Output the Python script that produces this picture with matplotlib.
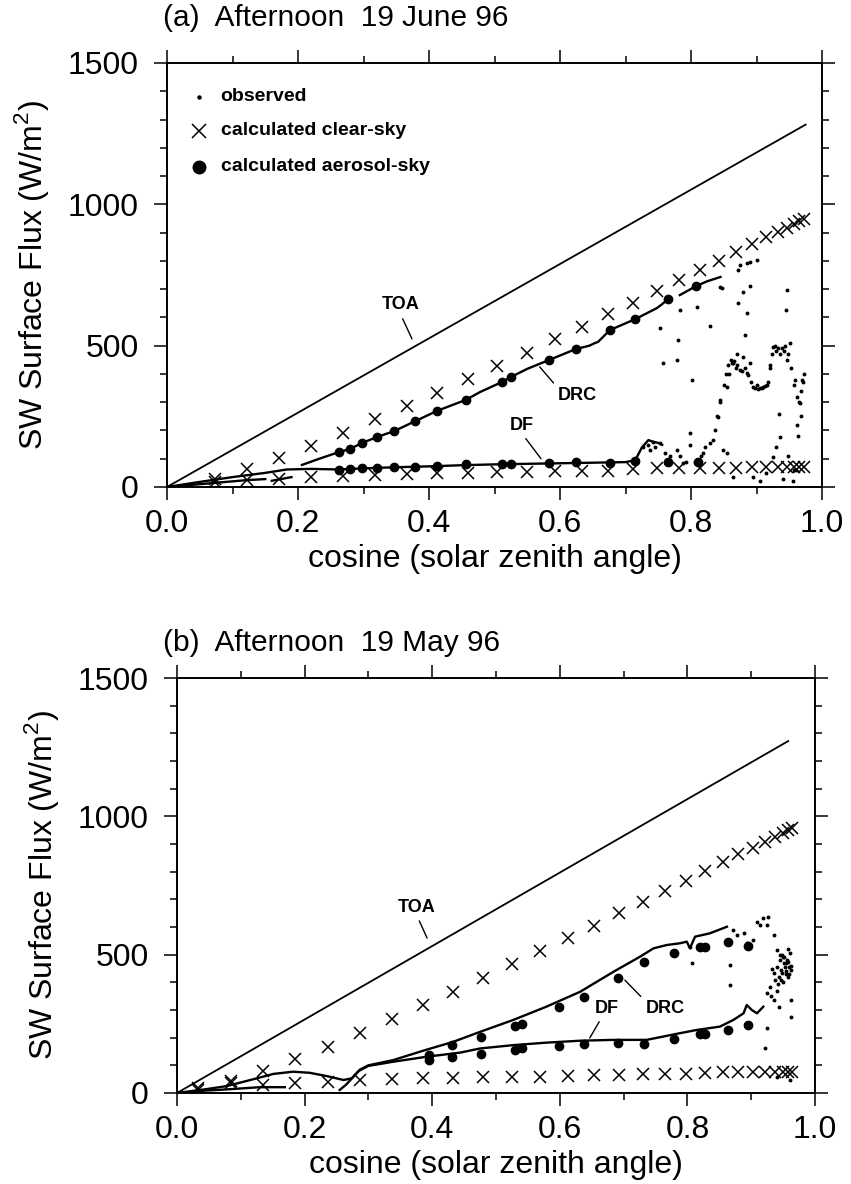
import numpy as np
import matplotlib
matplotlib.use("Agg")
import matplotlib.pyplot as plt
from matplotlib.ticker import MultipleLocator

plt.rcParams['font.family'] = ['Liberation Sans', 'DejaVu Sans']
plt.rcParams['mathtext.fontset'] = 'custom'
plt.rcParams['mathtext.rm'] = 'Liberation Sans'

nan = np.nan

# ---------------- Panel (a): 19 June 96 ----------------
a_toa_x = [0.0, 0.975]
a_toa_y = [0, 1282]

a_clr_drc_x = [0.073, 0.122, 0.171, 0.220, 0.269, 0.318, 0.366, 0.412, 0.460, 0.504, 0.550,
               0.592, 0.634, 0.673, 0.711, 0.748, 0.782, 0.814, 0.843, 0.869, 0.893, 0.914,
               0.933, 0.946, 0.957, 0.965, 0.973]
a_clr_drc_y = [28, 64, 103, 145, 191, 241, 287, 333, 382, 428, 474, 523, 566, 612, 651, 693,
               732, 768, 800, 831, 860, 884, 902, 916, 930, 941, 948]
a_clr_df_x = [0.073, 0.122, 0.171, 0.220, 0.269, 0.318, 0.366, 0.412, 0.460, 0.504, 0.550,
              0.592, 0.634, 0.673, 0.711, 0.748, 0.782, 0.814, 0.843, 0.869, 0.893, 0.914,
              0.933, 0.946, 0.957, 0.965, 0.973]
a_clr_df_y = [18, 25, 28, 35, 39, 42, 46, 50, 50, 53, 53, 57, 57, 57, 64, 67, 67, 67, 67, 67,
              70, 70, 70, 70, 70, 70, 70]

a_aer_drc_x = [0.263, 0.279, 0.298, 0.321, 0.347, 0.379, 0.412, 0.456, 0.511, 0.525, 0.583,
               0.624, 0.676, 0.715, 0.765, 0.808]
a_aer_drc_y = [124, 134, 156, 177, 198, 233, 269, 308, 371, 389, 449, 488, 555, 594, 665, 711]
a_aer_df_x = [0.263, 0.279, 0.298, 0.321, 0.347, 0.379, 0.412, 0.456, 0.511, 0.525, 0.583,
              0.624, 0.676, 0.715, 0.765, 0.811]
a_aer_df_y = [60, 64, 67, 67, 71, 71, 74, 81, 81, 81, 85, 88, 85, 92, 88, 88]

a_obs_drc_x = [0.0, 0.04, 0.08, 0.12, 0.15, nan, 0.16, 0.19, nan, 0.206, 0.23, 0.263, 0.279,
               0.298, 0.321, 0.347, 0.379, 0.412, 0.456, 0.478, 0.511, 0.525, 0.55, 0.583,
               0.624, 0.645, 0.653, 0.658, 0.676, 0.715, 0.748, 0.756, 0.765, nan, 0.783,
               0.808, 0.825, 0.845]
a_obs_drc_y = [0, 8, 16, 24, 28, nan, 22, 35, nan, 78, 98, 124, 134, 156, 177, 198, 233, 269,
               308, 336, 371, 389, 418, 449, 488, 500, 509, 513, 555, 594, 633, 647, 665, nan,
               679, 711, 728, 743]
a_obs_df_x = [0.0, 0.05, 0.10, 0.15, 0.183, 0.22, 0.263, 0.30, 0.35, 0.40, 0.45, 0.50, 0.55,
              0.60, 0.65, 0.70, 0.715, 0.725, 0.735, 0.742, 0.75, 0.756]
a_obs_df_y = [0, 18, 35, 50, 62, 64, 62, 66, 70, 73, 77, 80, 82, 84, 86, 88, 95, 140, 166, 160,
              156, 149]
a_obs_pts_x = [0.753, 0.757, 0.780, 0.778, 0.783, 0.802, 0.809, 0.829, 0.844, 0.848, 0.872,
               0.875, 0.885, 0.890, 0.900, 0.879, 0.890, 0.872, 0.885, 0.882, 0.879, 0.863,
               0.855, 0.844, 0.841, 0.837, 0.834, 0.864, 0.868, 0.875, 0.885, 0.895, 0.900,
               0.905, 0.910, 0.916, 0.925, 0.930, 0.939, 0.946, 0.951, 0.959, 0.966, 0.971,
               0.946, 0.945, 0.727, 0.742, 0.753, 0.763, 0.778, 0.783, 0.788, 0.798, 0.798,
               0.809, 0.818, 0.829, 0.849, 0.855, 0.864, 0.895, 0.925, 0.930, 0.936, 0.940,
               0.955, 0.960, 0.962, 0.964, 0.968, 0.935, 0.920, 0.870, 0.858, 0.890,
               0.840, 0.845, 0.850, 0.853, 0.857, 0.861, 0.866, 0.870, 0.878, 0.882, 0.887,
               0.892, 0.897, 0.903, 0.908, 0.913, 0.918, 0.921, 0.923, 0.928, 0.933, 0.936,
               0.942, 0.944, 0.948, 0.953, 0.957, 0.962, 0.965, 0.968, 0.970, 0.972, 0.735,
               0.745, 0.768, 0.792, 0.815, 0.822, 0.738, 0.760, 0.905, 0.915, 0.948, 0.958]
a_obs_pts_y = [562, 439, 520, 449, 626, 378, 637, 569, 708, 705, 768, 785, 792, 797, 803, 690,
               710, 651, 615, 538, 460, 439, 354, 308, 248, 202, 166, 439, 420, 414, 403, 354,
               360, 350, 355, 361, 495, 480, 492, 449, 509, 378, 297, 371, 697, 626, 142, 159,
               156, 96, 131, 110, 85, 191, 150, 96, 120, 156, 131, 120, 35, 35, 106, 140, 177,
               30, 20, 60, 220, 180, 250, 260, 420, 470, 400, 440,
               250, 300, 360, 400, 430, 450, 445, 430, 410, 420, 395, 370, 350, 345, 352, 358,
               370, 430, 470, 500, 490, 470, 480, 500, 470, 420, 360, 320, 300, 340, 380, 400,
               150, 140, 110, 90, 110, 140, 130, 120, 20, 50, 110, 60]

# ---------------- Panel (b): 19 May 96 ----------------
b_toa_x = [0.0, 0.958]
b_toa_y = [0, 1272]

b_clr_drc_x = [0.033, 0.085, 0.135, 0.185, 0.237, 0.287, 0.337, 0.386, 0.433, 0.480, 0.525,
               0.569, 0.613, 0.654, 0.693, 0.730, 0.765, 0.798, 0.828, 0.856, 0.879, 0.903,
               0.922, 0.937, 0.950, 0.958, 0.964]
b_clr_drc_y = [18, 43, 80, 123, 166, 217, 267, 318, 365, 417, 466, 513, 560, 604, 650, 690,
               730, 766, 802, 835, 864, 885, 907, 925, 940, 950, 958]
b_clr_df_x = [0.033, 0.085, 0.135, 0.185, 0.237, 0.287, 0.337, 0.386, 0.433, 0.480, 0.525,
              0.569, 0.613, 0.654, 0.693, 0.730, 0.765, 0.798, 0.828, 0.856, 0.879, 0.903,
              0.922, 0.937, 0.950, 0.958, 0.964]
b_clr_df_y = [11, 36, 29, 36, 40, 47, 51, 54, 54, 58, 58, 58, 61, 65, 65, 69, 69, 69, 72, 75,
              75, 75, 75, 75, 75, 75, 75]

b_aer_drc_x = [0.395, 0.431, 0.476, 0.529, 0.540, 0.599, 0.638, 0.691, 0.732, 0.779, 0.820,
               0.828, 0.864, 0.895]
b_aer_drc_y = [137, 173, 201, 242, 249, 312, 348, 414, 475, 507, 529, 529, 545, 532]
b_aer_df_x = [0.395, 0.431, 0.476, 0.529, 0.540, 0.599, 0.638, 0.691, 0.732, 0.779, 0.820,
              0.828, 0.864, 0.895]
b_aer_df_y = [119, 129, 142, 155, 161, 170, 177, 179, 177, 194, 212, 212, 228, 246]

b_obs_drc_x = [0.0, 0.04, 0.078, 0.125, 0.151, 0.182, 0.208, 0.235, 0.261, 0.274, 0.287,
               0.30, 0.339, 0.386, 0.433, 0.475, 0.527, 0.579, 0.632, 0.684, 0.726, 0.747,
               0.768, 0.788, 0.799, 0.804, 0.812, 0.835, 0.862]
b_obs_drc_y = [0, 12, 25, 53, 69, 77, 73, 61, 47, 53, 85, 100, 119, 153, 185, 221, 264, 312,
               366, 438, 493, 523, 535, 541, 547, 523, 565, 577, 601]
b_obs_df_x = [0.0, 0.04, 0.078, 0.13, 0.169, nan, 0.255, 0.265, 0.275, 0.285, 0.30, 0.339,
              0.391, 0.444, 0.475, 0.527, 0.579, 0.632, 0.684, 0.736, 0.788, 0.815, 0.851,
              0.872, 0.888, 0.893, 0.901, 0.909, 0.919]
b_obs_df_y = [0, 8, 13, 21, 21, nan, 11, 30, 55, 80, 98, 113, 131, 146, 161, 173, 182, 189,
              192, 192, 216, 228, 240, 264, 288, 318, 300, 288, 312]
b_obs_pts_x = [0.872, 0.877, 0.888, 0.893, 0.898, 0.903, 0.909, 0.914, 0.919, 0.924, 0.926,
               0.935, 0.807, 0.867, 0.867, 0.940, 0.945, 0.804, 0.924, 0.929, 0.935, 0.940,
               0.945, 0.950, 0.955, 0.961, 0.963, 0.958, 0.948, 0.953, 0.935, 0.943, 0.963,
               0.963, 0.922, 0.924, 0.940, 0.961, 0.951, 0.956, 0.959, 0.946, 0.942, 0.960,
               0.957, 0.949, 0.931, 0.954, 0.944, 0.947, 0.952, 0.958, 0.962, 0.950, 0.955,
               0.941, 0.937, 0.933]
b_obs_pts_y = [589, 571, 577, 541, 529, 553, 619, 607, 631, 607, 637, 571, 469, 463, 390, 517,
               500, 529, 360, 384, 433, 456, 481, 493, 469, 505, 445, 420, 433, 456, 336, 312,
               336, 276, 161, 234, 59, 47, 470, 480, 430, 410, 395, 455, 520, 500, 350, 440,
               420, 445, 490, 475, 460, 400, 430, 370, 410, 450]

XMAJ = [0.0, 0.2, 0.4, 0.6, 0.8, 1.0]
XLAB = ['0.0', '0.2', '0.4', '0.6', '0.8', '1.0']
YMAJ = [0, 500, 1000, 1500]
YLAB = ['0', '500', '1000', '1500']

W, H = 851, 1184
fig = plt.figure(figsize=(W / 100, H / 100), dpi=100)


def px_axes(l, r, t, b):
    return fig.add_axes([l / W, 1 - b / H, (r - l) / W, (b - t) / H])


def style(ax):
    ax.set_xlim(0, 1.0)
    ax.set_ylim(0, 1500)
    ax.set_xticks(XMAJ)
    ax.set_xticklabels(XLAB)
    ax.set_yticks(YMAJ)
    ax.set_yticklabels(YLAB)
    ax.xaxis.set_minor_locator(MultipleLocator(0.1))
    ax.yaxis.set_minor_locator(MultipleLocator(100))
    ax.tick_params(which='both', direction='out', top=True, right=True, width=1.1,
                   labelsize=23, colors='black')
    ax.tick_params(which='major', length=9.5)
    ax.tick_params(which='minor', length=4.7)
    ax.tick_params(axis='x', which='major', pad=6)
    ax.tick_params(axis='y', which='major', pad=11)
    for s in ax.spines.values():
        s.set_linewidth(1.4)
    ax.set_xlabel('cosine (solar zenith angle)', fontsize=23, labelpad=4)
    ax.set_ylabel('SW Surface Flux (W/m$^2$)', fontsize=23, labelpad=12)


def draw(ax, toa_x, toa_y, cdx, cdy, cfx, cfy, adx, ady, afx, afy, odx, ody, ofx, ofy, ptx, pty):
    ax.plot(toa_x, toa_y, color='black', lw=1.3)
    ax.plot(odx, ody, color='black', lw=1.7)
    ax.plot(ofx, ofy, color='black', lw=1.7)
    ax.plot(ptx, pty, linestyle='none', marker='o', ms=1.8, color='black')
    ax.plot(cdx, cdy, linestyle='none', marker='x', ms=8, mew=1.1, color='black')
    ax.plot(cfx, cfy, linestyle='none', marker='x', ms=8, mew=1.1, color='black')
    ax.plot(adx, ady, linestyle='none', marker='o', ms=6, color='black')
    ax.plot(afx, afy, linestyle='none', marker='o', ms=6, color='black')


lab_kw = dict(fontsize=13, fontweight='bold', ha='center', va='center')
arr = dict(arrowstyle='-', lw=1.0, color='black', shrinkA=2, shrinkB=0)

# ---- panel a ----
ax1 = px_axes(167, 822, 63, 487)
style(ax1)
draw(ax1, a_toa_x, a_toa_y, a_clr_drc_x, a_clr_drc_y, a_clr_df_x, a_clr_df_y,
     a_aer_drc_x, a_aer_drc_y, a_aer_df_x, a_aer_df_y,
     a_obs_drc_x, a_obs_drc_y, a_obs_df_x, a_obs_df_y, a_obs_pts_x, a_obs_pts_y)
ax1.annotate('TOA', xy=(0.374, 524), xytext=(0.356, 644), arrowprops=dict(arr, relpos=(0.5, 0)), **lab_kw)
ax1.annotate('DRC', xy=(0.569, 425), xytext=(0.627, 325), arrowprops=dict(arr, relpos=(0.0, 0.9)), **lab_kw)
ax1.annotate('DF', xy=(0.571, 100), xytext=(0.542, 219), arrowprops=dict(arr, relpos=(0.5, 0)), **lab_kw)

# legend (panel a)
leg_y = [0.92, 0.84, 0.755]
ax1.plot([0.049], [leg_y[0]], marker='o', ms=2.2, color='black', transform=ax1.transAxes)
ax1.plot([0.049], [leg_y[1]], marker='x', ms=10, mew=1.1, color='black', transform=ax1.transAxes)
ax1.plot([0.049], [leg_y[2]], marker='o', ms=9, color='black', transform=ax1.transAxes)
for yy, tt in zip(leg_y, ['observed', 'calculated clear-sky', 'calculated aerosol-sky']):
    ax1.text(0.082, yy, tt, transform=ax1.transAxes, fontsize=14, fontweight='bold',
             ha='left', va='center')

fig.text(163 / W, 1 - 18 / H, '(a)  Afternoon  19 June 96', fontsize=21.5, ha='left', va='center')

# ---- panel b ----
ax2 = px_axes(177, 815, 678, 1093)
style(ax2)
draw(ax2, b_toa_x, b_toa_y, b_clr_drc_x, b_clr_drc_y, b_clr_df_x, b_clr_df_y,
     b_aer_drc_x, b_aer_drc_y, b_aer_df_x, b_aer_df_y,
     b_obs_drc_x, b_obs_drc_y, b_obs_df_x, b_obs_df_y, b_obs_pts_x, b_obs_pts_y)
ax2.annotate('TOA', xy=(0.392, 560), xytext=(0.376, 672), arrowprops=dict(arr, relpos=(0.5, 0)), **lab_kw)
ax2.annotate('DF', xy=(0.647, 199), xytext=(0.674, 307), arrowprops=dict(arr, relpos=(0.3, 0)), **lab_kw)
ax2.annotate('DRC', xy=(0.702, 408), xytext=(0.765, 307), arrowprops=dict(arr, relpos=(0.0, 0.9)), **lab_kw)

fig.text(163 / W, 1 - 643 / H, '(b)  Afternoon  19 May 96', fontsize=21.5, ha='left', va='center')

fig.savefig('out.png', dpi=100)
